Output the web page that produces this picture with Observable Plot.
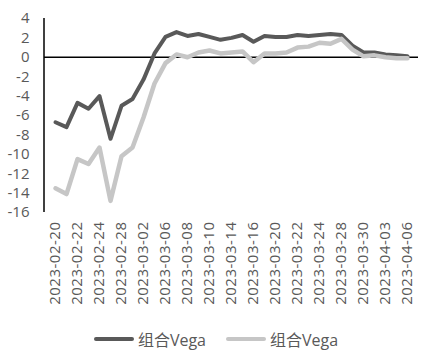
<!DOCTYPE html>
<html>
<head>
<meta charset="utf-8">
<script src="https://cdn.jsdelivr.net/npm/d3@7"></script>
<script src="https://cdn.jsdelivr.net/npm/@observablehq/plot@0.6"></script>
<style>
  body { margin: 0; background: #fff; font-family: "Open Sans", "Noto Sans CJK SC", sans-serif; }
  #wrap { width: 432px; }
  .legend { display: flex; justify-content: center; align-items: center; height: 38px; color: #595959; font-size: 16px; gap: 0; }
  .item { display: flex; align-items: center; margin: 0 10px; }
  .sw { width: 40px; height: 4px; margin-right: 4px; border-radius: 2px; }
</style>
</head>
<body>
<div id="wrap"></div>
<script>
const dates = ["2023-02-20","2023-02-21","2023-02-22","2023-02-23","2023-02-24","2023-02-27","2023-02-28",
  "2023-03-01","2023-03-02","2023-03-03","2023-03-06","2023-03-07","2023-03-08","2023-03-09","2023-03-10",
  "2023-03-13","2023-03-14","2023-03-15","2023-03-16","2023-03-17","2023-03-20","2023-03-21","2023-03-22",
  "2023-03-23","2023-03-24","2023-03-27","2023-03-28","2023-03-29","2023-03-30","2023-03-31",
  "2023-04-03","2023-04-04","2023-04-06"];
const darkValues = [-6.7,-7.2,-4.7,-5.3,-4.0,-8.4,-5.0,-4.3,-2.3,0.4,2.1,2.6,2.2,2.4,2.1,
  1.8,2.0,2.3,1.6,2.2,2.1,2.1,2.3,2.2,2.3,2.4,2.3,1.2,0.5,0.5,0.3,0.2,0.1];
const lightValues = [-13.5,-14.1,-10.5,-11.0,-9.3,-14.8,-10.2,-9.3,-6.2,-2.7,-0.6,0.3,0.0,0.5,0.7,
  0.4,0.5,0.6,-0.5,0.4,0.4,0.5,1.0,1.1,1.5,1.4,1.9,0.8,0.1,0.2,0.0,-0.1,-0.1];
const seriesNames = ["组合Vega", "组合Vega"];
const colors = ["#595959", "#c6c6c6"];
const yTicks = [4,2,0,-2,-4,-6,-8,-10,-12,-14,-16];
const xTicks = dates.filter((d, i) => i % 2 === 0);

const dark = dates.map((d, i) => ({date: d, v: darkValues[i]}));
const light = dates.map((d, i) => ({date: d, v: lightValues[i]}));

const marginLeft = 44;
const chart = Plot.plot({
  width: 432,
  height: 320,
  marginLeft,
  marginRight: 14,
  marginTop: 18,
  marginBottom: 108,
  style: {fontFamily: "'Open Sans', sans-serif", color: "#595959", background: "#fff"},
  x: {type: "point", domain: dates, padding: 0.5},
  y: {domain: [-16, 4]},
  marks: [
    Plot.axisY({ticks: yTicks, tickSize: 0, tickPadding: 15, fontSize: 15, tickFormat: d => d3.format("d")(d).replace("−","-"), label: null}),
    Plot.axisX({ticks: xTicks, tickSize: 0, tickPadding: 9, tickRotate: -90, fontSize: 15, label: null}),
    Plot.ruleY([0], {stroke: "#000", strokeWidth: 1.5}),
    Plot.line(dark, {x: "date", y: "v", stroke: colors[0], strokeWidth: 4, strokeLinejoin: "round"}),
    Plot.line(light, {x: "date", y: "v", stroke: colors[1], strokeWidth: 4.5, strokeLinejoin: "round"})
  ]
});
// y axis line
const ys = chart.scale("y");
d3.select(chart).append("line")
  .attr("x1", marginLeft).attr("x2", marginLeft)
  .attr("y1", ys.apply(4)).attr("y2", ys.apply(-16))
  .attr("stroke", "#000").attr("stroke-width", 1.5);
d3.select(chart).selectAll("[aria-label='x-axis tick label'] text").style("letter-spacing", "0.5px");

const wrap = document.getElementById("wrap");
wrap.appendChild(chart);
const legend = document.createElement("div");
legend.className = "legend";
seriesNames.forEach((n, i) => {
  const it = document.createElement("div");
  it.className = "item";
  it.innerHTML = `<span class="sw" style="background:${colors[i]}"></span><span>${n}</span>`;
  legend.appendChild(it);
});
wrap.appendChild(legend);
</script>
</body>
</html>
